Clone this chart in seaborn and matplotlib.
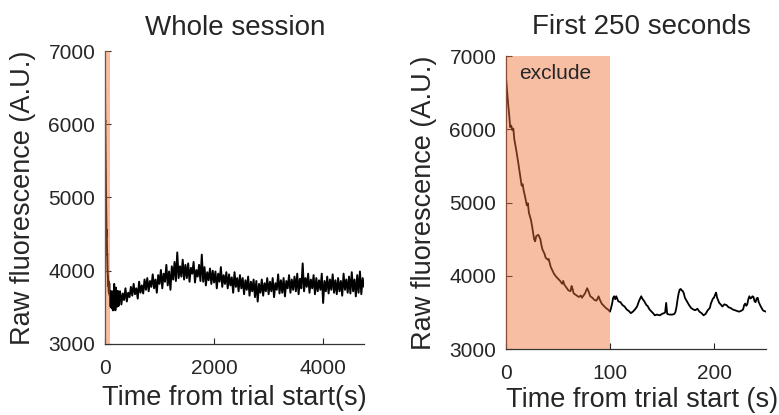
import numpy as np
import pandas as pd
import matplotlib
matplotlib.use("Agg")
import matplotlib.pyplot as plt
import seaborn as sns

# ---- data ----
# First 250 s (right panel), irregular sample times (s) and raw fluorescence (A.U.)
t_first = [0, 1, 2, 3, 4, 5, 6, 7, 8, 10,
           12, 13, 15, 16, 17, 18, 20, 21, 22, 24,
           25, 27, 28, 29, 31, 33, 34, 35, 37, 38,
           40, 41, 43, 45, 46, 48, 50, 52, 54, 55,
           56, 58, 60, 62, 63, 64, 65, 67, 70, 72,
           73, 75, 76, 78, 79, 81, 83, 85, 87, 89,
           90, 92, 94, 96, 98, 100, 101, 102, 103, 104,
           105, 106, 108, 110, 112, 114, 116, 118, 120, 122,
           124, 126, 127, 128, 130, 131, 133, 135, 136, 138,
           140, 142, 143, 145, 148, 150, 152, 153, 154, 155,
           157, 160, 162, 163, 164, 165, 166, 167, 168, 169,
           170, 171, 172, 174, 176, 178, 180, 182, 184, 186,
           188, 190, 192, 194, 196, 197, 199, 200, 201, 202,
           203, 205, 207, 208, 210, 212, 214, 216, 218, 220,
           222, 224, 226, 228, 229, 230, 231, 232, 233, 234,
           235, 236, 237, 238, 239, 240, 241, 242, 243, 245,
           247, 248, 250]
f_first = [6700, 6520, 6350, 6200, 6030, 6050, 5990, 6010, 5860, 5700,
           5520, 5420, 5230, 5250, 5160, 5100, 4960, 4990, 4860, 4760,
           4680, 4500, 4470, 4540, 4560, 4500, 4420, 4360, 4300, 4250,
           4220, 4230, 4120, 4060, 4030, 3990, 3960, 3930, 3890, 3930,
           3880, 3840, 3800, 3790, 3860, 3820, 3760, 3740, 3710, 3730,
           3700, 3740, 3760, 3830, 3800, 3720, 3700, 3670, 3660, 3720,
           3680, 3620, 3590, 3560, 3540, 3510, 3560, 3620, 3700, 3720,
           3680, 3720, 3650, 3640, 3600, 3580, 3540, 3520, 3490, 3510,
           3540, 3580, 3620, 3660, 3720, 3690, 3650, 3600, 3590, 3540,
           3510, 3480, 3460, 3470, 3460, 3480, 3490, 3500, 3630, 3480,
           3470, 3470, 3480, 3510, 3580, 3680, 3760, 3810, 3820, 3800,
           3790, 3760, 3700, 3650, 3600, 3560, 3540, 3530, 3550, 3510,
           3490, 3460, 3480, 3530, 3560, 3620, 3690, 3700, 3740, 3770,
           3700, 3630, 3600, 3580, 3610, 3600, 3570, 3560, 3540, 3530,
           3520, 3510, 3520, 3540, 3600, 3620, 3590, 3610, 3680, 3720,
           3690, 3700, 3720, 3710, 3650, 3640, 3690, 3700, 3640, 3580,
           3530, 3520, 3510]

# Rest of the session, every 25 s from 275 s to 4750 s
t_rest_start, t_rest_step = 275, 25
f_rest = [3720, 3540, 3690, 3600, 3760, 3580, 3700, 3640, 3780,
          3660, 3820, 3680, 3760, 3620, 3850, 3700, 3800, 3690, 3880,
          3740, 3900, 3720, 3860, 3780, 3950, 3760, 3880, 3700, 3940,
          3820, 4010, 3760, 3960, 3850, 4080, 3800, 3990, 3740, 4060,
          3880, 4120, 3860, 4250, 3900, 4060, 3920, 4150, 3880, 4080,
          3900, 4100, 3850, 4040, 3960, 4120, 3840, 4010, 3920, 4080,
          3860, 4220, 3850, 4050, 3800, 3980, 3870, 4030, 3820, 4000,
          3840, 3990, 3760, 3960, 3850, 4050, 3780, 3940, 3820, 3980,
          3760, 3950, 3800, 3910, 3700, 3980, 3780, 3900, 3720, 3940,
          3760, 3900, 3680, 3870, 3740, 3920, 3660, 3850, 3720, 3880,
          3640, 3860, 3580, 3820, 3700, 3880, 3660, 3830, 3720, 3900,
          3680, 3850, 3720, 3900, 3640, 3830, 3740, 3950, 3690, 3870,
          3700, 3900, 3650, 3860, 3760, 3940, 3700, 3880, 3740, 3920,
          3720, 3960, 3680, 3890, 3760, 4100, 3720, 3900, 3780, 3960,
          3700, 3880, 3760, 3940, 3680, 3900, 3720, 3870, 3740, 3960,
          3560, 3860, 3720, 3920, 3690, 3880, 3740, 3950, 3700, 3870,
          3680, 3900, 3720, 3860, 3660, 3960, 3740, 3880, 3700, 3920,
          3690, 3980, 3720, 3880, 3650, 3940, 3700, 3990, 3680, 3900,
          3780]

exclude_end = 100
titles = ["Whole session", "First 250 seconds"]
xlabels = ["Time from trial start(s)", "Time from trial start (s)"]
ylabel = "Raw fluorescence (A.U.)"
xticks_whole = [0, 2000, 4000]
xticks_first = [0, 100, 200]
yticks = [3000, 4000, 5000, 6000, 7000]

# ---- build tables ----
t_rest = [t_rest_start + i * t_rest_step for i in range(len(f_rest))]
df_first = pd.DataFrame({"t": t_first, "f": f_first})
df_whole = pd.DataFrame({"t": t_first[:-1] + t_rest, "f": f_first[:-1] + f_rest})

sns.set_theme(style="ticks")
plt.rcParams["font.family"] = ["Liberation Sans", "DejaVu Sans"]
txt = "#262626"
plt.rcParams.update({
    "text.color": txt, "axes.labelcolor": txt,
    "xtick.color": txt, "ytick.color": txt,
    "axes.edgecolor": "#333333",
    "xtick.direction": "in", "ytick.direction": "in",
})

fig = plt.figure(figsize=(7.79, 4.15), dpi=100)
ax1 = fig.add_axes([0.1348, 0.1711, 0.3325, 0.706])
ax2 = fig.add_axes([0.6496, 0.159, 0.3337, 0.706])

shade = (238 / 255, 112 / 255, 55 / 255)

sns.lineplot(data=df_whole, x="t", y="f", ax=ax1, color="black", lw=1.4,
             estimator=None, sort=False)
sns.lineplot(data=df_first, x="t", y="f", ax=ax2, color="black", lw=1.3,
             estimator=None, sort=False)

for ax in (ax1, ax2):
    ax.axvspan(0, exclude_end, color=shade, alpha=0.45, lw=0, zorder=3)
    ax.set_ylim(3000, 7000)
    ax.set_yticks(yticks)
    ax.tick_params(labelsize=15, length=4, width=0.8)
    ax.tick_params(axis="x", pad=11)
    ax.tick_params(axis="y", pad=7)
    sns.despine(ax=ax)
    ax.set_ylabel(ylabel, fontsize=19.5)
    ax.spines["left"].set_linewidth(0.9)
    ax.spines["bottom"].set_linewidth(0.9)

ax1.set_xlim(0, 4750)
ax1.set_xticks(xticks_whole)
ax2.set_xlim(0, 250)
ax2.set_xticks(xticks_first)

ax1.set_xlabel(xlabels[0], fontsize=19.5)
ax2.set_xlabel(xlabels[1], fontsize=19.5)
for ax in (ax1, ax2):
    ax.xaxis.label.set_va("baseline")
ax1.xaxis.set_label_coords(0.5, -0.208)
ax2.xaxis.set_label_coords(0.523, -0.198)
ax1.yaxis.set_label_coords(-0.267, 0.5)
ax2.yaxis.set_label_coords(-0.265, 0.5)

ax2.text(47, 6760, "exclude", fontsize=15, ha="center", va="center", zorder=4)

fig.text(0.3015, 1 - 35 / 415, titles[0], fontsize=20, ha="center", va="baseline")
fig.text(0.824, 1 - 34 / 415, titles[1], fontsize=20, ha="center", va="baseline")

fig.savefig("out.png", dpi=100)
